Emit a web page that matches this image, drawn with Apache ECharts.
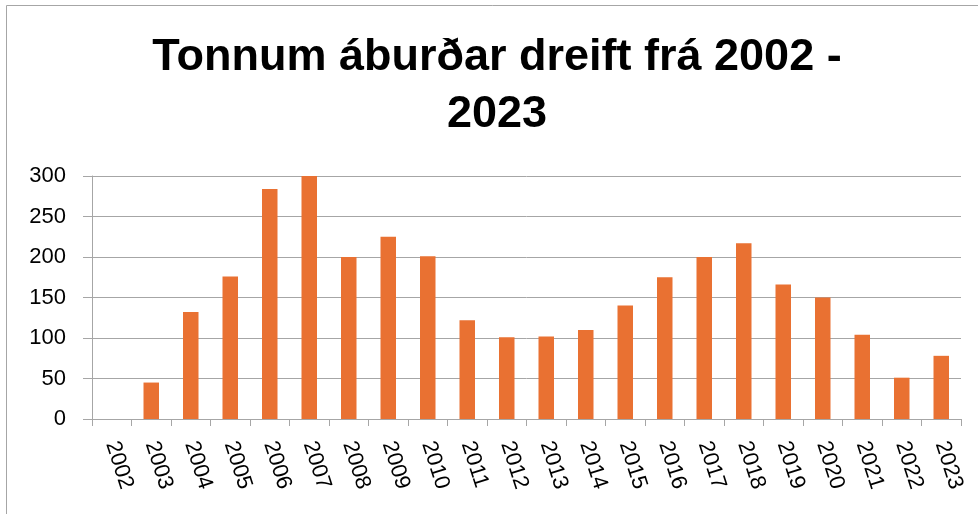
<!DOCTYPE html>
<html>
<head>
<meta charset="utf-8">
<script src="https://cdn.jsdelivr.net/npm/echarts@6/dist/echarts.min.js"></script>
<style>
html,body{margin:0;padding:0;background:#fff;}
#chart{width:978px;height:514px;}
</style>
</head>
<body>
<div id="chart"></div>
<script>
const titleText = 'Tonnum áburðar dreift frá 2002 -\n2023';
const years = ['2002','2003','2004','2005','2006','2007','2008','2009','2010','2011','2012','2013','2014','2015','2016','2017','2018','2019','2020','2021','2022','2023'];
const tonnes = [0,45,132,176,284,300,200,225,201,122,101,102,110,140,175,200,217,166,150,104,51,78];
const yTicks = [0,50,100,150,200,250,300];

const chart = echarts.init(document.getElementById('chart'), null, {renderer:'canvas'});
chart.setOption({
  animation:false,
  backgroundColor:'#ffffff',
  graphic:[{
    type:'rect', silent:true, z:-10,
    shape:{x:6.5,y:5.5,width:990,height:530},
    style:{fill:'none',stroke:'#a6a6a6',lineWidth:1}
  },{
    type:'text', silent:true,
    x:497, y:86,
    style:{
      text:titleText,
      align:'center',
      verticalAlign:'middle',
      fontFamily:'Liberation Sans, Arial, sans-serif',
      fontWeight:'bold',
      fontSize:45,
      lineHeight:57,
      fill:'#000000'
    }
  }],
  grid:{left:92,right:17,top:176,bottom:95,containLabel:false},
  xAxis:{
    type:'category',
    data:years,
    boundaryGap:true,
    axisLine:{show:true,lineStyle:{color:'#a6a6a6',width:1}},
    axisTick:{show:true,length:7,alignWithLabel:false,interval:0,lineStyle:{color:'#a6a6a6'}},
    axisLabel:{interval:0,rotate:-72,margin:23,color:'#000000',fontSize:22,fontFamily:'Liberation Sans, Arial, sans-serif'},
    splitLine:{show:false}
  },
  yAxis:{
    type:'value',
    min:yTicks[0],
    max:yTicks[yTicks.length-1],
    interval:yTicks[1]-yTicks[0],
    axisLine:{show:true,lineStyle:{color:'#a6a6a6',width:1}},
    axisTick:{show:true,length:9,lineStyle:{color:'#a6a6a6'}},
    axisLabel:{margin:26,color:'#000000',fontSize:22,fontFamily:'Liberation Sans, Arial, sans-serif'},
    splitLine:{show:true,lineStyle:{color:'#a6a6a6',width:1}}
  },
  series:[{
    type:'bar',
    data:tonnes,
    barWidth:15.5,
    itemStyle:{color:'#E97132'}
  }]
});
</script>
</body>
</html>
